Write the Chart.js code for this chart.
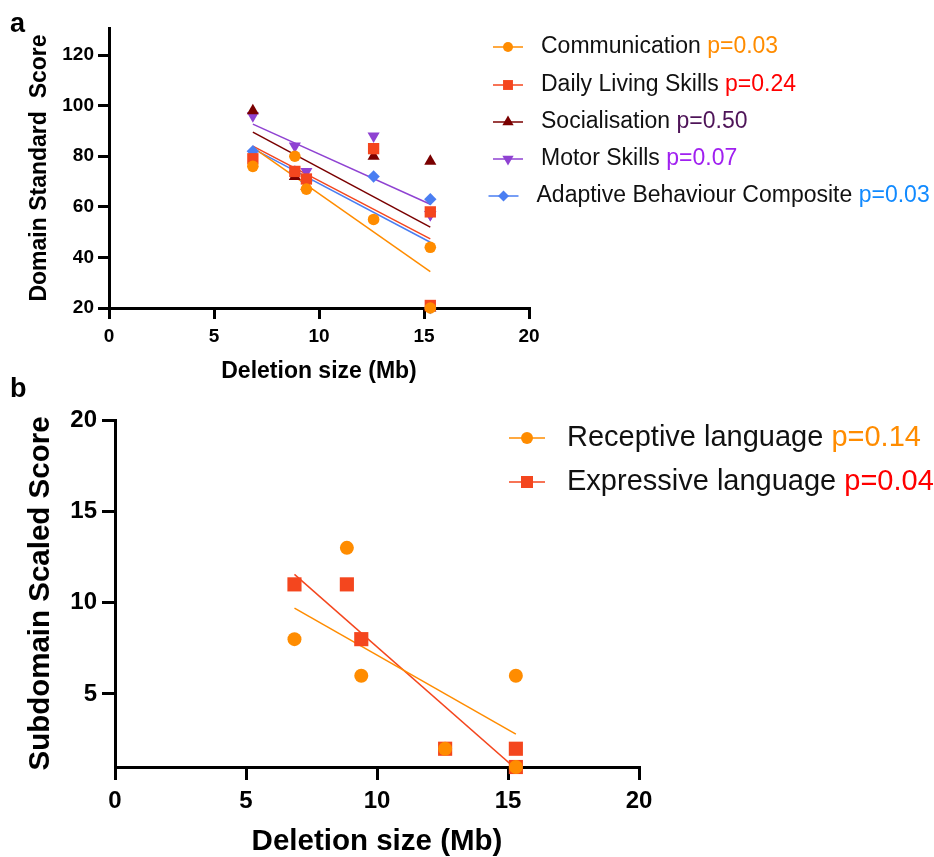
<!DOCTYPE html>
<html>
<head>
<meta charset="utf-8">
<script src="https://cdn.jsdelivr.net/npm/chart.js@4.4.1/dist/chart.umd.min.js"></script>
<style>
  html, body { margin: 0; padding: 0; background: #fff; }
  #wrap { position: relative; width: 934px; height: 857px; overflow: hidden; }
  canvas { position: absolute; left: 0; }
</style>
</head>
<body>
<div id="wrap">
  <canvas id="chartA" width="934" height="400" style="top:0"></canvas>
  <canvas id="chartB" width="934" height="477" style="top:380px"></canvas>
</div>
<script>
// six patients, deletion size in Mb (two share 15.3)
const deletionSize = [6.85, 8.85, 9.4, 12.6, 15.3, 15.3];

// panel a - Vineland domain standard scores
const domainNames = ["Communication", "Daily Living Skills", "Socialisation", "Motor Skills", "Adaptive Behaviour Composite"];
const domainPValues = ["p=0.03", "p=0.24", "p=0.50", "p=0.07", "p=0.03"];
const communication = [76, 80, 67, 55, 44, 20];
const dailyLiving = [79, 74, 71, 83, 58, 21];
const socialisation = [98, 72, 68, 80, 78, 20];
const motorSkills = [96, 84, 74, 88, 57, 57];
const adaptiveComposite = [82, 74, 70, 72, 63, 20];
// fit lines, value at start and end of fitRange
const domainFitStart = [83.5, 84, 89.5, 92.7, 83];
const domainFitEnd = [34.4, 47.3, 52, 61, 46];

// panel b - language subdomain scaled scores
const subdomainNames = ["Receptive language", "Expressive language"];
const subdomainPValues = ["p=0.14", "p=0.04"];
const receptive = [8, 13, 6, 2, 6, 1];
const expressive = [11, 11, 8, 2, 2, 1];
const subdomainFitStart = [9.7, 11.55];
const subdomainFitEnd = [2.8, 0.9];

const fitRange = [6.85, 15.3];
const xTicks = [0, 5, 10, 15, 20];
const domainTicks = [20, 40, 60, 80, 100, 120];
const subdomainTicks = [5, 10, 15, 20];

const FONT = "'Liberation Sans', Arial, Helvetica, sans-serif";

const domainLook = [
  { color: "#ff8c00", pColor: "#ff8c00", pointStyle: "circle", radius: 5.8, rotation: 0, legendRadius: 5 },
  { color: "#f4461e", pColor: "#ff0000", pointStyle: "rect", radius: 8, rotation: 0, legendRadius: 7 },
  { color: "#7a0000", pColor: "#4e1458", pointStyle: "triangle", radius: 7, rotation: 0, legendRadius: 6.5 },
  { color: "#8f42d2", pColor: "#a020f0", pointStyle: "triangle", radius: 7, rotation: 180, legendRadius: 6.5 },
  { color: "#4a7ef2", pColor: "#118aff", pointStyle: "rectRot", radius: 6.2, rotation: 0, legendRadius: 5.5 }
];
const subdomainLook = [
  { color: "#ff8c00", pColor: "#ff8c00", pointStyle: "circle", radius: 7, rotation: 0, legendRadius: 6 },
  { color: "#f4461e", pColor: "#ff0000", pointStyle: "rect", radius: 10, rotation: 0, legendRadius: 8.5 }
];

function points(values) {
  return deletionSize.map((x, i) => ({ x: x, y: values[i] }));
}

function buildDatasets(series, looks, fitStart, fitEnd) {
  const sets = [];
  series.forEach((values, i) => {
    const look = looks[i];
    sets.push({
      type: "scatter",
      data: points(values),
      pointStyle: look.pointStyle,
      rotation: look.rotation,
      pointRadius: look.radius,
      pointBackgroundColor: look.color,
      pointBorderWidth: 0,
      showLine: false,
      clip: false,
      order: 0
    });
    sets.push({
      type: "line",
      data: [{ x: fitRange[0], y: fitStart[i] }, { x: fitRange[1], y: fitEnd[i] }],
      borderColor: look.color,
      borderWidth: 1.5,
      pointRadius: 0,
      fill: false,
      order: 1
    });
  });
  return sets;
}

function scales(cfg) {
  return {
    x: {
      type: "linear",
      min: 0,
      max: 20,
      afterBuildTicks: (s) => { s.ticks = xTicks.map((v) => ({ value: v })); },
      afterFit: (s) => { s.height = cfg.xHeight; },
      border: { display: true, color: "#000", width: 3 },
      grid: { display: true, drawOnChartArea: false, drawTicks: true, tickLength: cfg.tickLength, color: "#000", lineWidth: 3 },
      ticks: { color: "#000", font: { family: FONT, size: cfg.tickSize, weight: "bold" }, padding: cfg.xPad, maxRotation: 0, autoSkip: false },
      title: { display: true, text: "Deletion size (Mb)", color: "#000", font: { family: FONT, size: cfg.titleSize, weight: "bold", lineHeight: 1 }, padding: { top: 0, bottom: cfg.xTitlePad } }
    },
    y: {
      type: "linear",
      min: cfg.yMin,
      max: cfg.yMax,
      afterBuildTicks: (s) => { s.ticks = cfg.yTicks.map((v) => ({ value: v })); },
      afterFit: (s) => { s.width = cfg.yWidth; },
      border: { display: true, color: "#000", width: 3 },
      grid: { display: true, drawOnChartArea: false, drawTicks: true, tickLength: cfg.tickLength, color: "#000", lineWidth: 3 },
      ticks: { color: "#000", font: { family: FONT, size: cfg.tickSize, weight: "bold" }, padding: cfg.yPad, autoSkip: false },
      title: { display: true, text: cfg.yTitle, color: "#000", font: { family: FONT, size: cfg.titleSize, weight: "bold", lineHeight: 1 }, padding: { top: cfg.yTitlePad, bottom: 0 } }
    }
  };
}

function legendPlugin(names, pValues, looks, layout) {
  return {
    id: "pLegend",
    afterDraw(chart) {
      const ctx = chart.ctx;
      ctx.save();
      names.forEach((name, i) => {
        const look = looks[i];
        const y = layout.rows[i];
        const shift = layout.shift[i] || 0;
        const x0 = layout.lineFrom + shift;
        const x1 = layout.lineTo + shift;
        ctx.strokeStyle = look.color;
        ctx.lineWidth = 1.5;
        ctx.beginPath();
        ctx.moveTo(x0, y);
        ctx.lineTo(x1, y);
        ctx.stroke();
        ctx.fillStyle = look.color;
        Chart.helpers.drawPoint(ctx, { pointStyle: look.pointStyle, rotation: look.rotation, radius: look.legendRadius, borderWidth: 0 }, (x0 + x1) / 2, y);
        ctx.font = layout.fontSize + "px " + FONT;
        ctx.textBaseline = "middle";
        ctx.textAlign = "left";
        const tx = layout.textX + shift;
        const label = name + " ";
        ctx.fillStyle = "#111";
        ctx.fillText(label, tx, y);
        ctx.fillStyle = look.pColor;
        ctx.fillText(pValues[i], tx + ctx.measureText(label).width, y);
      });
      ctx.restore();
    }
  };
}

const panelLetters = {
  id: "panelLetters",
  afterDraw(chart) {
    const ctx = chart.ctx;
    ctx.save();
    ctx.fillStyle = "#000";
    ctx.font = "bold 27px " + FONT;
    ctx.textBaseline = "alphabetic";
    ctx.fillText("a", 10, 32);
    ctx.fillText("b", 10, 397);
    ctx.restore();
  }
};

new Chart(document.getElementById("chartA"), {
  type: "scatter",
  data: { datasets: buildDatasets([communication, dailyLiving, socialisation, motorSkills, adaptiveComposite], domainLook, domainFitStart, domainFitEnd) },
  options: {
    responsive: false,
    animation: false,
    events: [],
    layout: { padding: { left: 0, top: 28, right: 405, bottom: 0 } },
    plugins: { legend: { display: false }, tooltip: { enabled: false } },
    scales: scales({
      xHeight: 92, yWidth: 109, tickLength: 11, tickSize: 19, titleSize: 23,
      xPad: 6, yPad: 4, xTitlePad: 16.5, yTitlePad: 28.5,
      yMin: 20, yMax: 130.7, yTicks: domainTicks, yTitle: "Domain Standard  Score"
    })
  },
  plugins: [
    panelLetters,
    legendPlugin(domainNames, domainPValues, domainLook, {
      rows: [47, 85, 122, 159, 196], shift: [0, 0, 0, 0, -4.5],
      lineFrom: 493, lineTo: 523, textX: 541, fontSize: 23
    })
  ]
});

new Chart(document.getElementById("chartB"), {
  type: "scatter",
  data: { datasets: buildDatasets([receptive, expressive], subdomainLook, subdomainFitStart, subdomainFitEnd) },
  options: {
    responsive: false,
    animation: false,
    events: [],
    layout: { padding: { left: 0, top: 40, right: 295, bottom: 0 } },
    plugins: { legend: { display: false }, tooltip: { enabled: false } },
    scales: scales({
      xHeight: 90, yWidth: 115, tickLength: 13, tickSize: 24, titleSize: 29.5,
      xPad: 7, yPad: 5, xTitlePad: 0, yTitlePad: 26.5,
      yMin: 1, yMax: 20, yTicks: subdomainTicks, yTitle: "Subdomain Scaled Score"
    })
  },
  plugins: [
    legendPlugin(subdomainNames, subdomainPValues, subdomainLook, {
      rows: [58, 102], shift: [0, 0],
      lineFrom: 509, lineTo: 545, textX: 567, fontSize: 29
    })
  ]
});
</script>
</body>
</html>
